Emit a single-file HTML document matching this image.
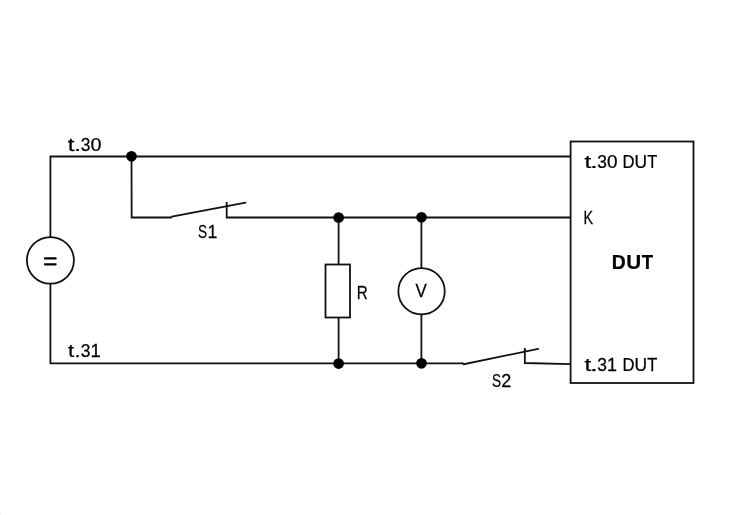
<!DOCTYPE html>
<html>
<head>
<meta charset="utf-8">
<style>
html,body{margin:0;padding:0;background:#fff;}
body{width:729px;height:515px;overflow:hidden;}
svg{display:block;}
text{font-family:"Liberation Sans",sans-serif;fill:#000;stroke:#000;stroke-width:0.25px;}
</style>
</head>
<body>
<svg width="729" height="515" viewBox="0 0 729 515">
<defs><filter id="gray" x="0" y="0" width="1" height="1"><feColorMatrix type="identity"/></filter></defs>
<rect x="0" y="0" width="729" height="515" fill="#fff"/>
<rect x="0" y="513" width="1" height="1" fill="#d8d8d8"/>
<g fill="none" stroke="#111" stroke-width="1.8" stroke-linecap="butt" stroke-linejoin="miter">
  <polyline points="50.4,237.1 50.4,156.5 570.6,156.5"/>
  <polyline points="50.4,283.5 50.4,363.4 463.0,363.35"/>
  <ellipse cx="50.4" cy="260.35" rx="23.5" ry="23.3"/>
  <polyline points="131.5,156.5 131.65,217.5 171.8,217.5"/>
  <line x1="171.8" y1="216.7" x2="245.6" y2="202.7" stroke-linecap="round"/>
  <polyline points="226.7,202.0 226.7,217.5 570.6,217.5"/>
  <line x1="338.6" y1="217.5" x2="338.6" y2="264.5"/>
  <rect x="325.5" y="264.5" width="24.5" height="53"/>
  <line x1="338.6" y1="317.5" x2="338.6" y2="363.4"/>
  <line x1="421.4" y1="217.5" x2="421.4" y2="268.0"/>
  <circle cx="421.55" cy="291.25" r="23.2"/>
  <line x1="421.4" y1="314.5" x2="421.4" y2="363.4"/>
  <polyline points="462.6,363.35 463.9,364.2 538.2,348.8" stroke-linecap="round"/>
  <polyline points="524.85,348.0 524.85,363.0 570.6,364.1"/>
  <rect x="570.6" y="141.5" width="122.9" height="241.5"/>
</g>
<g fill="#000">
  <circle cx="131.5" cy="156.3" r="5.35"/>
  <circle cx="338.65" cy="217.5" r="5.35"/>
  <circle cx="421.5" cy="217.3" r="5.35"/>
  <circle cx="338.6" cy="363.55" r="5.35"/>
  <circle cx="421.5" cy="363.3" r="5.35"/>
</g>
<g stroke="#000" stroke-width="2.3" stroke-linecap="round">
  <line x1="45" y1="258.4" x2="55.6" y2="258.4"/>
  <line x1="45" y1="264.3" x2="55.6" y2="264.3"/>
</g>
<g filter="url(#gray)">
<text transform="translate(67.84,150.70) scale(1.280,1)" font-size="18.70">t</text>
<text transform="translate(73.93,150.70) scale(1.379,1)" font-size="18.70">.</text>
<text transform="translate(80.80,150.70) scale(0.933,1)" font-size="18.70">3</text>
<text transform="translate(90.51,150.70) scale(1.059,1)" font-size="18.70">0</text>
<text transform="translate(68.07,356.70) scale(1.213,1)" font-size="18.26">t</text>
<text transform="translate(74.70,356.70) scale(1.095,1)" font-size="18.26">.</text>
<text transform="translate(80.80,356.70) scale(0.955,1)" font-size="18.26">3</text>
<text transform="translate(90.51,356.70) scale(1.012,1)" font-size="18.26">1</text>
<text transform="translate(584.49,167.90) scale(1.281,1)" font-size="18.99">t</text>
<text transform="translate(590.33,167.90) scale(1.386,1)" font-size="18.99">.</text>
<text transform="translate(597.20,167.90) scale(0.919,1)" font-size="18.99">3</text>
<text transform="translate(607.04,167.90) scale(0.998,1)" font-size="18.99">0</text>
<text transform="translate(622.47,167.90) scale(0.876,1)" font-size="18.99">D</text>
<text transform="translate(634.60,167.90) scale(0.915,1)" font-size="18.99">U</text>
<text transform="translate(647.29,167.90) scale(0.867,1)" font-size="18.99">T</text>
<text transform="translate(584.49,370.70) scale(1.321,1)" font-size="18.41">t</text>
<text transform="translate(590.33,370.70) scale(1.430,1)" font-size="18.41">.</text>
<text transform="translate(597.20,370.70) scale(0.948,1)" font-size="18.41">3</text>
<text transform="translate(606.96,370.70) scale(0.973,1)" font-size="18.41">1</text>
<text transform="translate(622.47,370.70) scale(0.904,1)" font-size="18.41">D</text>
<text transform="translate(634.60,370.70) scale(0.944,1)" font-size="18.41">U</text>
<text transform="translate(647.29,370.70) scale(0.894,1)" font-size="18.41">T</text>
<text transform="translate(197.89,238.40) scale(0.719,1)" font-size="18.99">S</text>
<text transform="translate(207.47,238.40) scale(0.931,1)" font-size="18.99">1</text>
<text transform="translate(491.89,386.80) scale(0.736,1)" font-size="18.55">S</text>
<text transform="translate(501.30,386.80) scale(0.971,1)" font-size="18.55">2</text>
<text transform="translate(583.55,223.50) scale(0.780,1)" font-size="18.41">K</text>
<text transform="translate(356.79,298.50) scale(0.811,1)" font-size="18.70">R</text>
<text transform="translate(415.42,296.90) scale(0.914,1)" font-size="18.55">V</text>
<text transform="translate(611.64,269.20) scale(0.927,1)" font-size="20.87" font-weight="bold">D</text>
<text transform="translate(626.26,269.20) scale(0.990,1)" font-size="20.87" font-weight="bold">U</text>
<text transform="translate(641.76,269.20) scale(0.889,1)" font-size="20.87" font-weight="bold">T</text>
</g>
</svg>
</body>
</html>
